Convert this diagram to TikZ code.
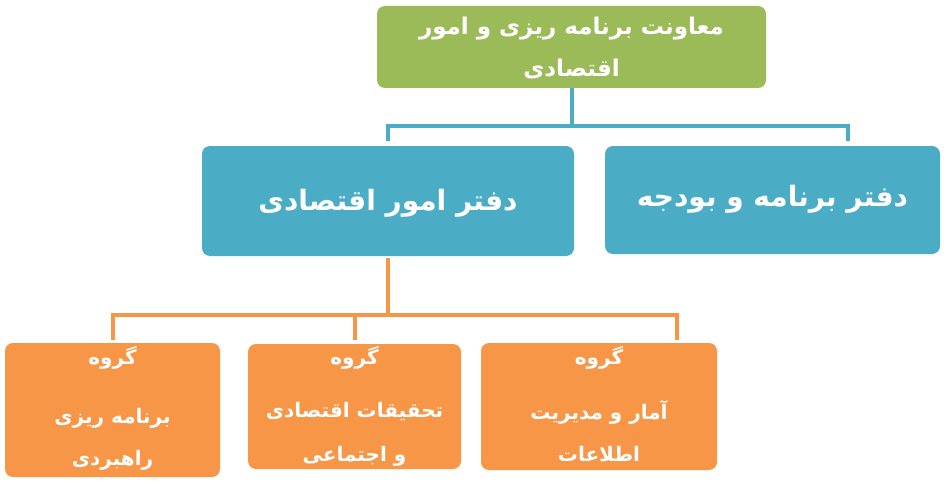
\documentclass[tikz,border=0pt]{standalone}
\usepackage{fontspec}
\newfontfamily\arabicfont[Script=Arabic]{DejaVu Sans}
\TeXXeTstate=1
\definecolor{gfill}{HTML}{9BBB59}
\definecolor{bfill}{HTML}{4BACC6}
\definecolor{ofill}{HTML}{F79646}
\tikzset{
  box/.style={rounded corners=8pt, inner sep=0pt, outer sep=0pt},
  gbox/.style={box, fill=gfill},
  bbox/.style={box, fill=bfill},
  obox/.style={box, fill=ofill},
  txt/.style={text=white, inner sep=0pt, font=\arabicfont\bfseries},
  bline/.style={draw=bfill, line width=4pt},
  oline/.style={draw=ofill, line width=4pt},
}
\begin{document}
\begin{tikzpicture}[x=1pt,y=-1pt]
\useasboundingbox (0,0) rectangle (947,484);
% boxes
\node[gbox, minimum width=389pt, minimum height=82pt] (top) at (571.5,47) {};
\node[bbox, minimum width=372pt, minimum height=110pt] (econ) at (388,201) {};
\node[bbox, minimum width=335pt, minimum height=108pt] (budget) at (772.5,200) {};
\node[obox, minimum width=215pt, minimum height=134pt] (g1) at (112.5,410) {};
\node[obox, minimum width=213pt, minimum height=125pt] (g2) at (354.5,406.5) {};
\node[obox, minimum width=236pt, minimum height=127pt] (g3) at (599,406.5) {};
% texts
\tikzset{
  ttxt/.style={txt, font=\arabicfont\bfseries\fontsize{23}{27}\selectfont},
  btxt/.style={txt, font=\arabicfont\bfseries\fontsize{28}{32}\selectfont},
  otxt/.style={txt, font=\arabicfont\bfseries\fontsize{20}{24}\selectfont}
}
\node[ttxt] (t1) at (571.5,29) {\beginR معاونت برنامه ریزی و امور\endR};
\node[ttxt] (t2) at (571.5,69) {\beginR اقتصادی\endR};
\node[btxt] (te) at (388,203) {\beginR دفتر امور اقتصادی\endR};
\node[btxt] (tb) at (772.5,199) {\beginR دفتر برنامه و بودجه\endR};
\node[otxt] (g1a) at (112.5,358) {\beginR گروه\endR};
\node[otxt] (g1b) at (112.5,418) {\beginR برنامه ریزی\endR};
\node[otxt] (g1c) at (112.5,460) {\beginR راهبردی\endR};
\node[otxt] (g2a) at (354.5,358) {\beginR گروه\endR};
\node[otxt] (g2b) at (354.5,412) {\beginR تحقیقات اقتصادی\endR};
\node[otxt] (g2c) at (354.5,456) {\beginR و اجتماعی\endR};
\node[otxt] (g3a) at (599,358) {\beginR گروه\endR};
\node[otxt] (g3b) at (599,412) {\beginR آمار و مدیریت\endR};
\node[otxt] (g3c) at (599,454) {\beginR اطلاعات\endR};
% connectors
\coordinate (bj) at (572,126);
\coordinate (bl) at (388,141);
\coordinate (br) at (848,141);
\draw[bline] (top.south -| bj) -- (bj);
\draw[bline] (bl) |- (bj) -| (br);
\coordinate (oj) at (388,315);
\coordinate (o1) at (112.5,340);
\coordinate (o2) at (354.5,340);
\coordinate (o3) at (677,340);
\draw[oline] ([yshift=-2pt]econ.south) -- (oj);
\draw[oline] (o1) |- (oj) -| (o3);
\draw[oline] (oj -| o2) -- (o2);
\end{tikzpicture}
\end{document}
